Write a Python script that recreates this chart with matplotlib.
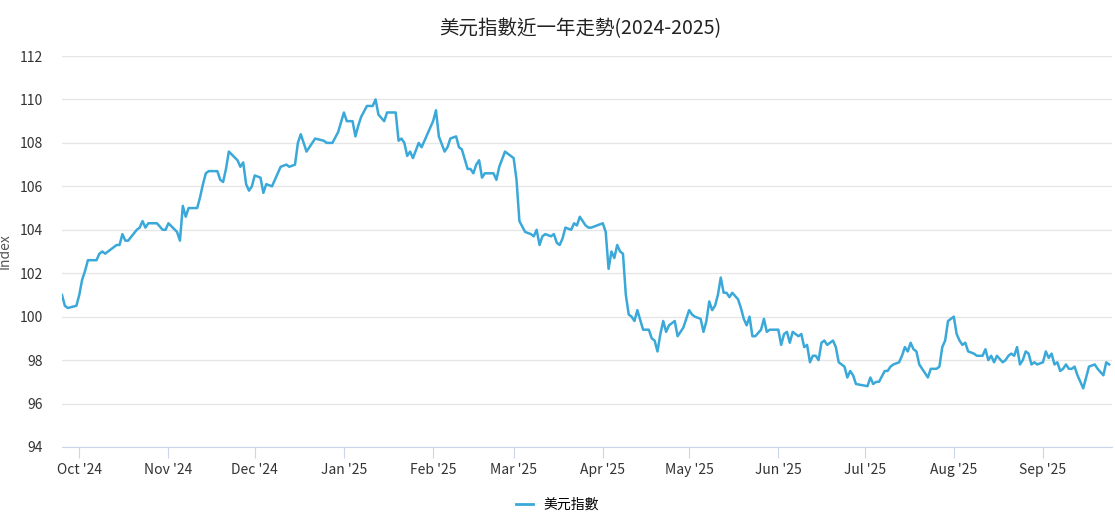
import matplotlib.pyplot as plt
import pandas as pd
from matplotlib.lines import Line2D

plt.rcParams['font.family'] = ['Noto Sans CJK TC', 'DejaVu Sans']

# 讀圖估計的數據 (日期, 指數)
dates = [
    "2024-09-25", "2024-09-26", "2024-09-27", "2024-09-30", "2024-10-01", "2024-10-02", "2024-10-03", "2024-10-04",
    "2024-10-07", "2024-10-08", "2024-10-09", "2024-10-10", "2024-10-11", "2024-10-14", "2024-10-15", "2024-10-16",
    "2024-10-17", "2024-10-18", "2024-10-21", "2024-10-22", "2024-10-23", "2024-10-24", "2024-10-25", "2024-10-28",
    "2024-10-30", "2024-10-31", "2024-11-01", "2024-11-04", "2024-11-05", "2024-11-06", "2024-11-07", "2024-11-08",
    "2024-11-11", "2024-11-12", "2024-11-13", "2024-11-14", "2024-11-15", "2024-11-18", "2024-11-19", "2024-11-20",
    "2024-11-21", "2024-11-22", "2024-11-25", "2024-11-26", "2024-11-27", "2024-11-28", "2024-11-29", "2024-11-30",
    "2024-12-01", "2024-12-03", "2024-12-04", "2024-12-05", "2024-12-07", "2024-12-08", "2024-12-10", "2024-12-12",
    "2024-12-13", "2024-12-15", "2024-12-16", "2024-12-17", "2024-12-19", "2024-12-20", "2024-12-22", "2024-12-25",
    "2024-12-26", "2024-12-28", "2024-12-30", "2025-01-01", "2025-01-02", "2025-01-04", "2025-01-05", "2025-01-06",
    "2025-01-07", "2025-01-09", "2025-01-11", "2025-01-12", "2025-01-13", "2025-01-15", "2025-01-16", "2025-01-19",
    "2025-01-20", "2025-01-21", "2025-01-22", "2025-01-23", "2025-01-24", "2025-01-25", "2025-01-27", "2025-01-28",
    "2025-01-30", "2025-02-01", "2025-02-02", "2025-02-03", "2025-02-05", "2025-02-06", "2025-02-07", "2025-02-09",
    "2025-02-10", "2025-02-11", "2025-02-13", "2025-02-14", "2025-02-15", "2025-02-16", "2025-02-17", "2025-02-18",
    "2025-02-19", "2025-02-21", "2025-02-22", "2025-02-23", "2025-02-24", "2025-02-26", "2025-03-01", "2025-03-02",
    "2025-03-03", "2025-03-05", "2025-03-07", "2025-03-08", "2025-03-09", "2025-03-10", "2025-03-11", "2025-03-12",
    "2025-03-14", "2025-03-15", "2025-03-16", "2025-03-17", "2025-03-18", "2025-03-19", "2025-03-21", "2025-03-22",
    "2025-03-23", "2025-03-24", "2025-03-26", "2025-03-27", "2025-03-28", "2025-04-01", "2025-04-02", "2025-04-03",
    "2025-04-04", "2025-04-05", "2025-04-06", "2025-04-07", "2025-04-08", "2025-04-09", "2025-04-10", "2025-04-11",
    "2025-04-12", "2025-04-13", "2025-04-15", "2025-04-17", "2025-04-18", "2025-04-19", "2025-04-20", "2025-04-21",
    "2025-04-22", "2025-04-23", "2025-04-24", "2025-04-25", "2025-04-26", "2025-04-27", "2025-04-28", "2025-04-29",
    "2025-05-01", "2025-05-02", "2025-05-03", "2025-05-05", "2025-05-06", "2025-05-07", "2025-05-08", "2025-05-09",
    "2025-05-10", "2025-05-11", "2025-05-12", "2025-05-13", "2025-05-14", "2025-05-15", "2025-05-16", "2025-05-18",
    "2025-05-19", "2025-05-20", "2025-05-21", "2025-05-22", "2025-05-23", "2025-05-24", "2025-05-26", "2025-05-27",
    "2025-05-28", "2025-05-29", "2025-06-01", "2025-06-02", "2025-06-03", "2025-06-04", "2025-06-05", "2025-06-06",
    "2025-06-07", "2025-06-08", "2025-06-09", "2025-06-10", "2025-06-11", "2025-06-12", "2025-06-13", "2025-06-14",
    "2025-06-15", "2025-06-16", "2025-06-17", "2025-06-18", "2025-06-19", "2025-06-20", "2025-06-21", "2025-06-22",
    "2025-06-24", "2025-06-25", "2025-06-26", "2025-06-27", "2025-06-28", "2025-07-02", "2025-07-03", "2025-07-04",
    "2025-07-05", "2025-07-06", "2025-07-08", "2025-07-09", "2025-07-10", "2025-07-11", "2025-07-13", "2025-07-14",
    "2025-07-15", "2025-07-16", "2025-07-17", "2025-07-18", "2025-07-19", "2025-07-20", "2025-07-22", "2025-07-23",
    "2025-07-24", "2025-07-26", "2025-07-27", "2025-07-28", "2025-07-29", "2025-07-30", "2025-08-01", "2025-08-02",
    "2025-08-03", "2025-08-04", "2025-08-05", "2025-08-06", "2025-08-08", "2025-08-09", "2025-08-11", "2025-08-12",
    "2025-08-13", "2025-08-14", "2025-08-15", "2025-08-16", "2025-08-18", "2025-08-19", "2025-08-20", "2025-08-21",
    "2025-08-22", "2025-08-23", "2025-08-24", "2025-08-25", "2025-08-26", "2025-08-27", "2025-08-28", "2025-08-29",
    "2025-08-30", "2025-09-01", "2025-09-02", "2025-09-03", "2025-09-04", "2025-09-05", "2025-09-06", "2025-09-07",
    "2025-09-08", "2025-09-09", "2025-09-10", "2025-09-11", "2025-09-12", "2025-09-13", "2025-09-15", "2025-09-16",
    "2025-09-17", "2025-09-19", "2025-09-20", "2025-09-22", "2025-09-23", "2025-09-24",
]
values = [
    101.0, 100.5, 100.4, 100.5, 101.0, 101.7, 102.1, 102.6,
    102.6, 102.9, 103.0, 102.9, 103.0, 103.3, 103.3, 103.8,
    103.5, 103.5, 104.0, 104.1, 104.4, 104.1, 104.3, 104.3,
    104.0, 104.0, 104.3, 103.9, 103.5, 105.1, 104.6, 105.0,
    105.0, 105.5, 106.1, 106.6, 106.7, 106.7, 106.3, 106.2,
    106.8, 107.6, 107.2, 106.9, 107.1, 106.1, 105.8, 106.0,
    106.5, 106.4, 105.7, 106.1, 106.0, 106.3, 106.9, 107.0,
    106.9, 107.0, 108.0, 108.4, 107.6, 107.8, 108.2, 108.1,
    108.0, 108.0, 108.5, 109.4, 109.0, 109.0, 108.3, 108.8,
    109.2, 109.7, 109.7, 110.0, 109.3, 109.0, 109.4, 109.4,
    108.1, 108.2, 108.0, 107.4, 107.6, 107.3, 108.0, 107.8,
    108.4, 109.0, 109.5, 108.3, 107.6, 107.8, 108.2, 108.3,
    107.8, 107.7, 106.8, 106.8, 106.6, 107.0, 107.2, 106.4,
    106.6, 106.6, 106.6, 106.3, 106.9, 107.6, 107.3, 106.3,
    104.4, 103.9, 103.8, 103.7, 104.0, 103.3, 103.7, 103.8,
    103.7, 103.8, 103.4, 103.3, 103.6, 104.1, 104.0, 104.3,
    104.2, 104.6, 104.2, 104.1, 104.1, 104.3, 103.9, 102.2,
    103.0, 102.7, 103.3, 103.0, 102.9, 101.0, 100.1, 100.0,
    99.8, 100.3, 99.4, 99.4, 99.0, 98.9, 98.4, 99.2,
    99.8, 99.3, 99.6, 99.7, 99.8, 99.1, 99.3, 99.5,
    100.3, 100.1, 100.0, 99.9, 99.3, 99.8, 100.7, 100.3,
    100.5, 101.0, 101.8, 101.1, 101.1, 100.9, 101.1, 100.8,
    100.4, 99.9, 99.6, 100.0, 99.1, 99.1, 99.4, 99.9,
    99.3, 99.4, 99.4, 98.7, 99.2, 99.3, 98.8, 99.3,
    99.2, 99.1, 99.2, 98.6, 98.7, 97.9, 98.2, 98.2,
    98.0, 98.8, 98.9, 98.7, 98.8, 98.9, 98.6, 97.9,
    97.7, 97.2, 97.5, 97.3, 96.9, 96.8, 97.2, 96.9,
    97.0, 97.0, 97.5, 97.5, 97.7, 97.8, 97.9, 98.2,
    98.6, 98.4, 98.8, 98.5, 98.4, 97.8, 97.4, 97.2,
    97.6, 97.6, 97.7, 98.6, 98.9, 99.8, 100.0, 99.2,
    98.9, 98.7, 98.8, 98.4, 98.3, 98.2, 98.2, 98.5,
    98.0, 98.2, 97.9, 98.2, 97.9, 98.0, 98.2, 98.3,
    98.2, 98.6, 97.8, 98.0, 98.4, 98.3, 97.8, 97.9,
    97.8, 97.9, 98.4, 98.1, 98.3, 97.8, 97.9, 97.5,
    97.6, 97.8, 97.6, 97.6, 97.7, 97.3, 96.7, 97.2,
    97.7, 97.8, 97.6, 97.3, 97.9, 97.8,
]
month_ticks = ["2024-10-01", "2024-11-01", "2024-12-01", "2025-01-01", "2025-02-01", "2025-03-01",
               "2025-04-01", "2025-05-01", "2025-06-01", "2025-07-01", "2025-08-01", "2025-09-01"]
month_labels = ["Oct '24", "Nov '24", "Dec '24", "Jan '25", "Feb '25", "Mar '25",
                "Apr '25", "May '25", "Jun '25", "Jul '25", "Aug '25", "Sep '25"]

x = pd.to_datetime(dates)
color = '#3aa8d8'

fig = plt.figure(figsize=(11.15, 5.24), dpi=100)
ax = fig.add_axes([62 / 1115, 1 - 447 / 524, 1050 / 1115, 391 / 524])
ax.plot(x, values, color=color, lw=1.8)

ax.set_ylim(94, 112)
ax.set_yticks(range(94, 113, 2))
ax.set_xlim(pd.Timestamp("2024-09-25"), pd.Timestamp("2025-09-25"))
ax.set_xticks(pd.to_datetime(month_ticks))
ax.set_xticklabels(month_labels)
ax.grid(axis='y', color='#e6e6e6', lw=1)
ax.set_axisbelow(True)
for s in ['top', 'right', 'left']:
    ax.spines[s].set_visible(False)
ax.spines['bottom'].set_color('#ccd6eb')
ax.tick_params(axis='y', length=0, labelsize=10, colors='#333333', pad=14)
ax.tick_params(axis='x', length=8, color='#ccd6eb', labelsize=10, colors='#333333')
ax.set_ylabel('Index', color='#555555', fontsize=10)
ax.yaxis.set_label_coords(-50 / 1050, 0.5)

fig.text(0.52, 0.965, '美元指數近一年走勢(2024-2025)', ha='center', va='top',
         fontsize=14, color='#222222')
handle = Line2D([], [], color=color, lw=2)
fig.legend([handle], ['美元指數'], loc='lower center', bbox_to_anchor=(0.5, 0.0),
           frameon=False, fontsize=10, handlelength=1.2)

fig.savefig('out.png', dpi=100)
